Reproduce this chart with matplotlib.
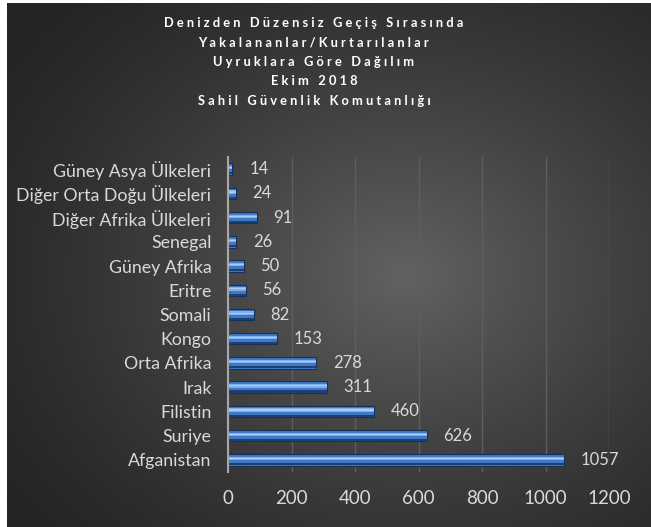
import numpy as np
import matplotlib.pyplot as plt

# data (bottom to top)
countries = ['Afganistan', 'Suriye', 'Filistin', 'Irak', 'Orta Afrika', 'Kongo',
             'Somali', 'Eritre', 'Güney Afrika', 'Senegal',
             'Diğer Afrika Ülkeleri', 'Diğer Orta Doğu Ülkeleri', 'Güney Asya Ülkeleri']
counts = [1057, 626, 460, 311, 278, 153, 82, 56, 50, 26, 91, 24, 14]
xticks = [0, 200, 400, 600, 800, 1000, 1200]
title_lines = ['Denizden Düzensiz Geçiş Sırasında',
               'Yakalananlar/Kurtarılanlar',
               'Uyruklara Göre Dağılım',
               'Ekim 2018',
               'Sahil Güvenlik Komutanlığı']

plt.rcParams['font.family'] = ['Lato', 'DejaVu Sans']
txt = '#d9d9d9'

fig = plt.figure(figsize=(6.51, 5.27), dpi=100)
fig.patch.set_facecolor('white')

# dark radial gradient panel
bg = fig.add_axes([7 / 651, 0, 644 / 651, 524 / 527], zorder=-1)
yy, xx = np.mgrid[0:1:300j, 0:1:370j]
r = np.sqrt(((xx - 0.62) / 0.75) ** 2 + ((yy - 0.52) / 0.75) ** 2)
shade = 0x25 / 255 + (0x62 / 255 - 0x25 / 255) * np.clip(1 - r, 0, 1) ** 1.3
bg.imshow(np.dstack([shade] * 3), aspect='auto', extent=[0, 1, 0, 1])
bg.set_axis_off()

ax = fig.add_axes([228 / 651, 55 / 527, 381 / 651, 315 / 527])
ax.patch.set_alpha(0)
y = np.arange(len(countries))
h = 0.47
ax.barh(y, counts, height=h, color='#3f78c4', edgecolor='#16305a', linewidth=0.8, zorder=3)
ax.barh(y + h * 0.12, counts, height=h * 0.3, color='#7fb0ee', linewidth=0, zorder=4)
ax.barh(y + h * 0.12, counts, height=h * 0.1, color='#a9cbf5', linewidth=0, zorder=5)
ax.barh(y - h * 0.38, counts, height=h * 0.18, color='#1d3f73', linewidth=0, zorder=4)

for yi, v in zip(y, counts):
    ax.annotate(str(v), (v, yi), xytext=(12, 0), textcoords='offset points',
                va='center', ha='left', color=txt, fontsize=12)

ax.set_xlim(0, 1200)
ax.set_ylim(-0.5, len(countries) - 0.5)
ax.set_xticks(xticks)
ax.set_xticklabels([str(t) for t in xticks], fontsize=13.5, color=txt)
ax.set_yticks(y)
ax.set_yticklabels(countries, fontsize=12.8, color=txt)
ax.tick_params(axis='both', length=0)
ax.tick_params(axis='x', pad=13)
ax.tick_params(axis='y', pad=12)
ax.grid(axis='x', color='#5e5e5e', linewidth=1, zorder=0)
for s in ['top', 'right', 'bottom']:
    ax.spines[s].set_visible(False)
ax.spines['left'].set_color('#a6a6a6')
ax.spines['left'].set_linewidth(1.5)
ax.spines['left'].set_zorder(6)

for i, line in enumerate(title_lines):
    fig.text(314 / 651, 1 - (23 + i * 19.4) / 527, ' '.join(line), ha='center', va='center',
             color='white', fontsize=9.3, fontweight='bold')

fig.savefig('out.png', dpi=100)
